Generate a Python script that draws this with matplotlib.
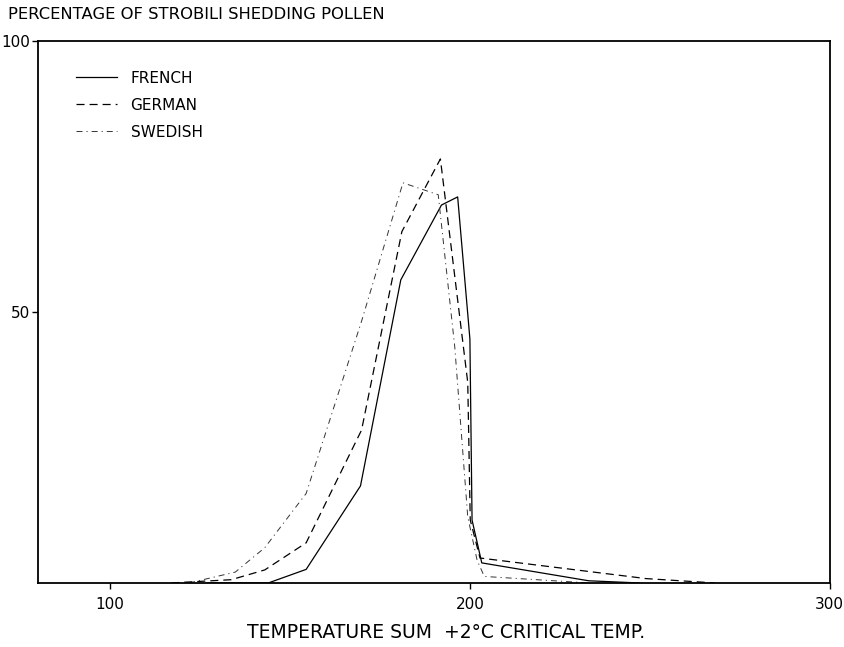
import matplotlib
matplotlib.use("Agg")
import matplotlib.pyplot as plt

plt.rcParams['font.family'] = ['DejaVu Sans']
plt.rcParams['lines.scale_dashes'] = False

# Data
french_x = [127, 144, 154.5, 169.6, 180.8, 192.1, 196.6, 200.0, 200.6, 203.3, 233, 247]
french_y = [0, 0, 2.5, 17.9, 55.9, 69.7, 71.2, 45, 11.6, 3.7, 0.4, 0]

german_x = [117, 133.7, 143, 154.5, 169.9, 181.1, 191.8, 199.4, 200.1, 202.8, 249, 268]
german_y = [0, 0.6, 2.4, 7.4, 28.2, 64.8, 78.2, 37, 11.6, 4.6, 0.8, 0]

swedish_x = [122, 134.8, 143, 154.5, 170, 181.4, 191.2, 195.8, 199.4, 202, 204, 233]
swedish_y = [0, 2.0, 6.5, 16.5, 48.5, 73.8, 71.6, 43.5, 12.2, 4.2, 1.2, 0]

x_ticks = [100, 200, 300]
y_ticks = [50, 100]

title = "PERCENTAGE OF STROBILI SHEDDING POLLEN"
xlabel = "TEMPERATURE SUM  +2°C CRITICAL TEMP."

fig = plt.figure(figsize=(8.45, 6.47), dpi=100)
ax = fig.add_axes([0.045, 0.099, 0.937, 0.838])

ax.plot(french_x, french_y, color='black', lw=0.9, label='FRENCH')
ax.plot(german_x, german_y, color='black', lw=0.9, dashes=(5.8, 3.6), label='GERMAN')
ax.plot(swedish_x, swedish_y, color='#333333', lw=0.7, dashes=(4.3, 2.9, 0.8, 2.9), label='SWEDISH')

ax.set_xlim(80, 300)
ax.set_ylim(0, 100)
ax.set_xticks(x_ticks)
ax.set_yticks(y_ticks)
ax.tick_params(direction='out', length=4, width=1, labelsize=11)
ax.tick_params(axis='x', pad=6)
ax.tick_params(axis='y', pad=1.5)
for s in ax.spines.values():
    s.set_linewidth(1.3)

fig.text(0.009, 0.978, title, fontsize=11.8, ha='left', va='center')
fig.text(0.528, 0.022, xlabel, fontsize=13.5, ha='center', va='center')

leg = ax.legend(loc='upper left', bbox_to_anchor=(0.03, 0.97), frameon=False,
                fontsize=11, handlelength=2.7, handletextpad=0.9, labelspacing=0.78)

fig.savefig("out.png", dpi=100)
